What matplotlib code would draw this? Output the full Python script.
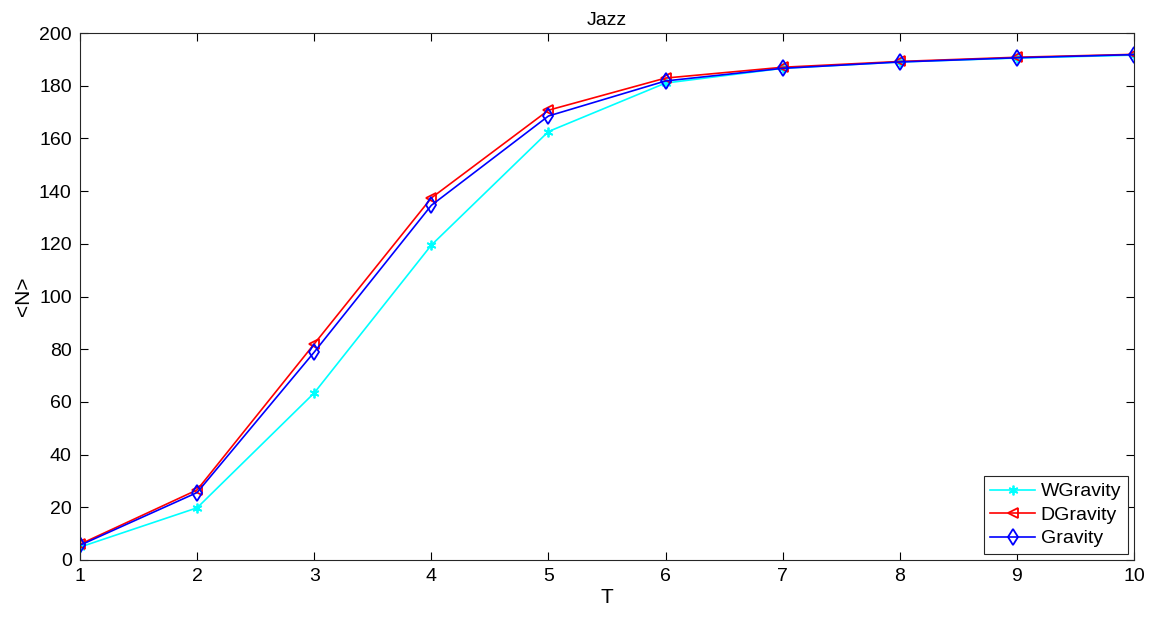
import matplotlib
matplotlib.use('Agg')
import matplotlib.pyplot as plt

plt.rcParams['font.family'] = ['Liberation Sans', 'DejaVu Sans']

T = [1, 2, 3, 4, 5, 6, 7, 8, 9, 10]
wgravity = [4.9, 19.8, 63.4, 119.5, 162.6, 181.0, 186.6, 189.0, 190.5, 191.6]
dgravity = [6.0, 26.6, 82.0, 137.4, 170.7, 182.9, 187.0, 189.2, 190.8, 191.9]
gravity = [5.6, 25.6, 78.9, 134.6, 168.5, 181.8, 186.6, 189.0, 190.6, 191.8]

fig = plt.figure(figsize=(11.65, 6.2), dpi=100)
ax = fig.add_axes([80 / 1165, 1 - 560 / 620, (1134 - 80) / 1165, (560 - 33) / 620])

ax.plot(T, wgravity, color='cyan', marker=(6, 2, 0), markersize=7, mew=1.3, lw=1.2, label='WGravity')
ax.plot(T, dgravity, color='red', marker='<', markersize=7, mfc='none', mew=1.3, lw=1.2, label='DGravity')
ax.plot(T, gravity, color='blue', marker='d', markersize=8, mfc='none', mew=1.3, lw=1.2, label='Gravity')

ax.set_xlim(1, 10)
ax.set_ylim(0, 200)
ax.set_xticks(T)
ax.set_yticks(range(0, 201, 20))
ax.tick_params(direction='in', length=6, labelsize=14, top=True, right=True, pad=6)
for s in ax.spines.values():
    s.set_color('#262626')
    s.set_linewidth(0.8)

ax.set_title('Jazz', fontsize=14, pad=6)
ax.set_xlabel('T', fontsize=15, labelpad=2)
ax.set_ylabel('<N>', fontsize=15, labelpad=4)

leg = ax.legend(loc='lower right', fontsize=14, fancybox=False, framealpha=1,
                edgecolor='#262626', borderpad=0.35, labelspacing=0.3,
                handlelength=2.3, handletextpad=0.3, borderaxespad=0.3)
leg.get_frame().set_linewidth(0.8)

fig.savefig('out.png', dpi=100)
